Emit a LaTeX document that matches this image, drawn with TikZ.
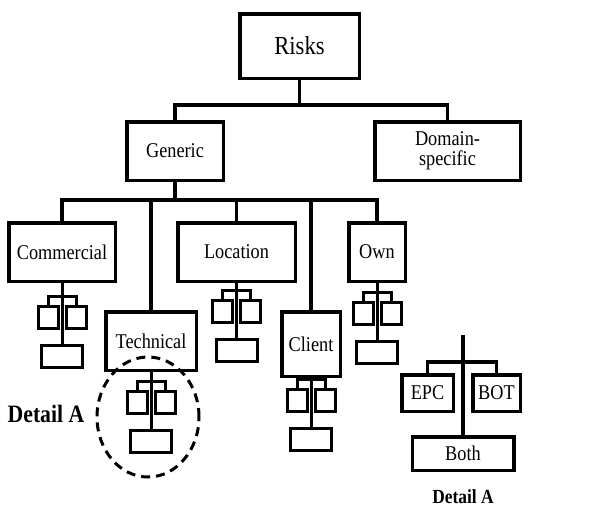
\documentclass[tikz,border=0pt]{standalone}
\usepackage{fontspec}
\setmainfont{Liberation Serif}[FakeStretch=0.87]
\usetikzlibrary{positioning,calc}
\tikzset{
  riskbox/.style={draw,line width=3.5pt,inner sep=1pt,align=center,
    font=\fontsize{21}{16}\selectfont},
  minibox/.style={draw,line width=3pt,minimum width=20pt,minimum height=22pt,inner sep=0pt},
  lowbox/.style={minibox,minimum width=41pt},
  link/.style={line width=3.5pt},
  minilink/.style={line width=3pt},
  detailtxt/.style={font=\bfseries\fontsize{25}{28}\selectfont},
  detailring/.style={line width=3pt,dash pattern=on 9pt off 6pt}
}
\begin{document}
\begin{tikzpicture}[x=1pt,y=1pt]
\useasboundingbox (0,0) rectangle (615,-507);
% top levels
\node[riskbox,minimum width=119.5pt,minimum height=64.5pt,font=\fontsize{26}{28}\selectfont] (risks) at (299.5,-46) {Risks};
\node[riskbox,minimum width=96.5pt,minimum height=58.5pt] (generic) at (175,-151) {Generic};
\node[riskbox,minimum width=145.5pt,minimum height=58.5pt,font=\fontsize{21}{20}\selectfont] (domain) at (447.5,-151) {Domain-\\specific};
\coordinate (bus1) at (risks.south |- 0,-105);
\draw[link] (risks.south) -- (bus1);
\draw[link] (generic.north) |- (bus1) -| (domain.north);
% generic risks
\node[riskbox,minimum width=106.5pt,minimum height=58.5pt] (comm) at (62,-252) {Commercial};
\node[riskbox,minimum width=117.5pt,minimum height=58.5pt] (loc) at (236.5,-252) {Location};
\node[riskbox,minimum width=56.5pt,minimum height=58.5pt] (own) at (377,-252) {Own};
\node[riskbox,minimum width=90.5pt,minimum height=58.5pt] (tech) at (151,-341) {Technical};
\node[riskbox,minimum width=58.5pt,minimum height=64.5pt] (cli) at (311,-344) {Client};
\coordinate (bus2) at (generic.south |- 0,-200);
\draw[link] (generic.south) -- (bus2);
\draw[link] (comm.north) |- (bus2) -| (own.north);
\foreach \c in {tech,loc,cli}{
  \draw[link] (\c.north) -- (\c.north |- bus2);
}
% small trees below each generic risk
\foreach \p/\t in {comm/305,loc/299,own/301,tech/390,cli/388}{
  \coordinate (\p-top) at (\p.south |- 0,-\t);
  \node[minibox,anchor=north east] (\p-l) at ([xshift=-2.5pt]\p-top) {};
  \node[minibox,anchor=north west] (\p-r) at ([xshift=2.5pt]\p-top) {};
  \node[lowbox,anchor=north] (\p-b) at ([yshift=-39pt]\p-top) {};
  \draw[minilink] (\p.south) -- (\p-b.north);
  \draw[minilink] (\p-l.north) -- ++(0,9) -| (\p-r.north);
}
\draw[detailring] (148,-417) ellipse [x radius=51, y radius=60];
\node[detailtxt] (lbl-a) at (46,-414) {Detail A};
% detail A
\node[riskbox,minimum width=51.5pt,minimum height=36.5pt] (epc) at (427.5,-393) {EPC};
\node[riskbox,minimum width=47.5pt,minimum height=36.5pt] (bot) at (496.5,-393) {BOT};
\node[riskbox,minimum width=101.5pt,minimum height=33.5pt] (both) at (463,-453.5) {Both};
\coordinate (detailtop) at (both.north |- 0,-335);
\draw[link] (detailtop) -- (both.north);
\draw[link] (epc.north) -- ++(0,11) -| (bot.north);
\node[detailtxt,font=\bfseries\fontsize{20}{22}\selectfont] (lbl-b) at (463,-497) {Detail A};
\end{tikzpicture}
\end{document}
